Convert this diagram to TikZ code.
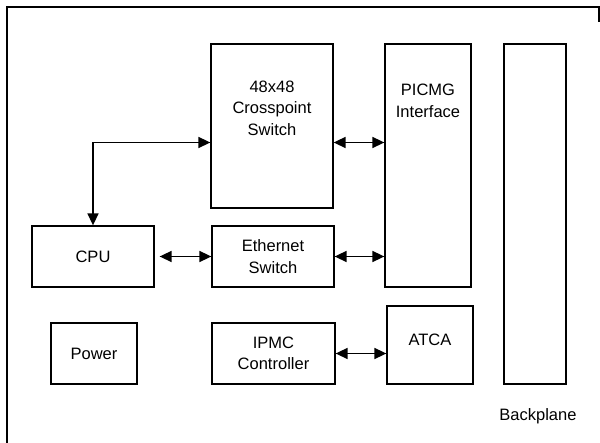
\documentclass[tikz,border=0pt]{standalone}
\usepackage{fontspec}
\setmainfont{Liberation Sans}
\usetikzlibrary{arrows.meta}

\begin{document}
\begin{tikzpicture}[
  x=1pt, y=-1pt,
  font=\fontsize{16.5}{21.5}\selectfont,
  box/.style={draw, line width=1.3pt, align=center, inner sep=0pt},
  txt/.style={align=center, inner sep=0pt},
  biarr/.style={{Triangle[length=12pt,width=11pt]}-{Triangle[length=12pt,width=11pt]},
                line width=1.6pt}
]
\useasboundingbox (0,0) rectangle (600,443);
% outer frame
\draw[line width=1.3pt] (7,443) |- (599,7) -- (599,22);

% boxes
\node[box, minimum width=122pt, minimum height=164pt] (xpt) at (272,126) {};
\node[txt] (xpttxt) at (272,108) {48x48\\Crosspoint\\Switch};
\node[box, minimum width=86pt, minimum height=243pt] (picmg) at (428,165.5) {};
\node[txt] (picmgtxt) at (428,101) {PICMG\\Interface};
\node[box, minimum width=62pt, minimum height=340pt] (bp) at (535,214) {};
\node[txt] (bptxt) at (538,416) {Backplane};

\node[box, minimum width=122pt, minimum height=61pt] (cpu) at (93,256.5) {CPU};
\node[box, minimum width=122pt, minimum height=61pt] (eth) at (273,256.5) {Ethernet\\Switch};
\node[box, minimum width=86pt, minimum height=61pt] (pwr) at (94,353.5) {Power};
\node[box, minimum width=123pt, minimum height=61pt] (ipmc) at (273.5,353.5) {IPMC\\Controller};
\node[box, minimum width=86pt, minimum height=78pt] (atca) at (430,345) {};
\node[txt] (atcatxt) at (430,340) {ATCA};

% links
\coordinate (r1) at (0,142.5);
\draw[biarr] (cpu.north) |- (xpt.west |- r1);
\draw[biarr] (xpt.east |- r1) -- (picmg.west |- r1);
\draw[biarr, shorten <=5pt] (cpu.east) -- (eth.west);
\draw[biarr] (eth.east) -- (picmg.west |- eth.east);
\draw[biarr] (ipmc.east) -- (atca.west |- ipmc.east);
\end{tikzpicture}
\end{document}
